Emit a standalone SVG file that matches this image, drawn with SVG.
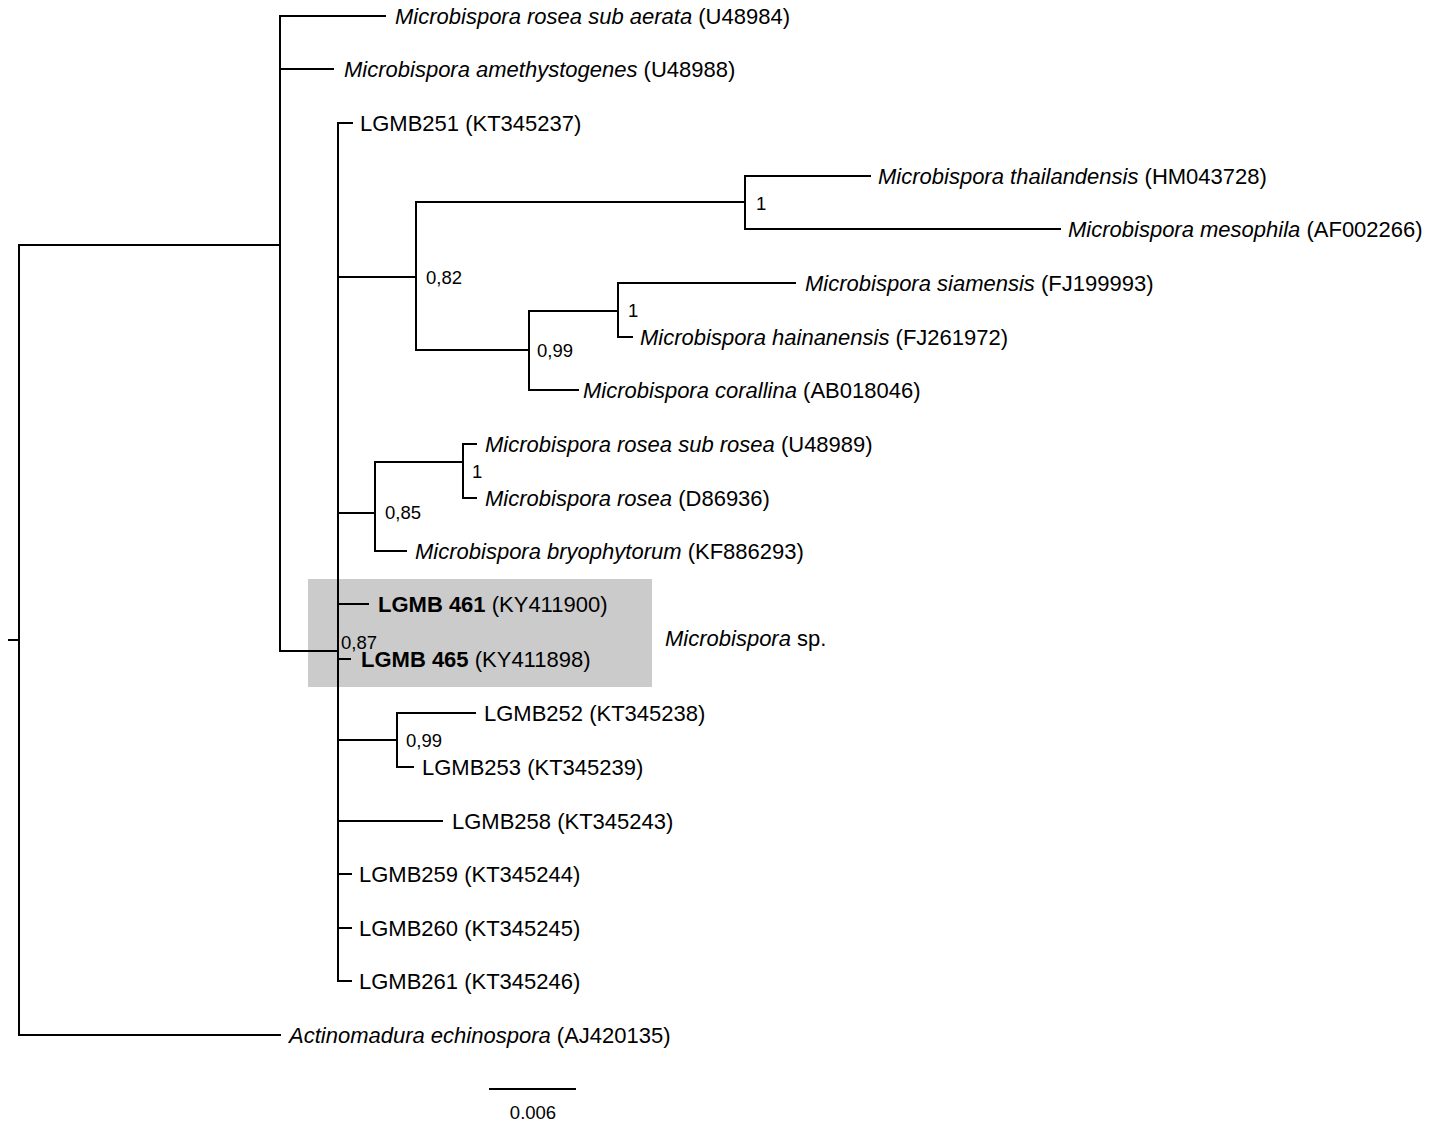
<svg xmlns="http://www.w3.org/2000/svg" width="1429" height="1129" viewBox="0 0 1429 1129">
<style>
.e{stroke:#000;stroke-width:2;fill:none;stroke-linecap:square}
.t{font-family:"Liberation Sans",Arial,sans-serif;font-size:22px;fill:#000}
.s{font-family:"Liberation Sans",Arial,sans-serif;font-size:18.5px;fill:#000}
.i{font-style:italic}
.b{font-weight:bold}
</style>
<rect x="308" y="579" width="344" height="108" fill="#cbcbcb"/>
<g id="connectors">
<path class="e" d="M9,640H19M19,245V1035M19,245H280M19,1035H280"/>
<path class="e" d="M280,16V651M280,16H385M280,69H333M280,651H338"/>
<path class="e" d="M338,123V981M338,123H352M338,277H416M338,513H375M338,604H368M338,659H350M338,740H397M338,821H442M338,874H351M338,928H351M338,981H351"/>
<path class="e" d="M416,202V350M416,202H745M416,350H529"/>
<path class="e" d="M745,176V229M745,176H870M745,229H1060"/>
<path class="e" d="M529,311V390M529,311H618M529,390H578"/>
<path class="e" d="M618,283V337M618,283H795M618,337H632"/>
<path class="e" d="M375,462V551M375,462H463M375,551H406"/>
<path class="e" d="M463,444V498M463,444H476M463,498H476"/>
<path class="e" d="M397,713V767M397,713H475M397,767H413"/>
<path class="e" d="M490,1089H575"/>
</g>
<g id="supports">
<text class="s" x="426" y="284">0,82</text>
<text class="s" x="756" y="210">1</text>
<text class="s" x="537" y="357">0,99</text>
<text class="s" x="628" y="317">1</text>
<text class="s" x="385" y="519">0,85</text>
<text class="s" x="472" y="478">1</text>
<text class="s" x="341" y="649">0,87</text>
<text class="s" x="406" y="747">0,99</text>
<text class="s" x="533" y="1119" text-anchor="middle">0.006</text>
</g>
<g id="n1"><text class="t" x="395" y="24"><tspan class="i">Microbispora rosea sub aerata</tspan> (U48984)</text></g>
<g id="n2"><text class="t" x="344" y="77"><tspan class="i">Microbispora amethystogenes</tspan> (U48988)</text></g>
<g id="n3"><text class="t" x="360" y="131">LGMB251 (KT345237)</text></g>
<g id="n4"><text class="t" x="878" y="184"><tspan class="i">Microbispora thailandensis</tspan> (HM043728)</text></g>
<g id="n5"><text class="t" x="1068" y="237"><tspan class="i">Microbispora mesophila</tspan> (AF002266)</text></g>
<g id="n6"><text class="t" x="805" y="291"><tspan class="i">Microbispora siamensis</tspan> (FJ199993)</text></g>
<g id="n7"><text class="t" x="640" y="345"><tspan class="i">Microbispora hainanensis</tspan> (FJ261972)</text></g>
<g id="n8"><text class="t" x="583" y="398"><tspan class="i">Microbispora corallina</tspan> (AB018046)</text></g>
<g id="n9"><text class="t" x="485" y="452"><tspan class="i">Microbispora rosea sub rosea</tspan> (U48989)</text></g>
<g id="n10"><text class="t" x="485" y="506"><tspan class="i">Microbispora rosea</tspan> (D86936)</text></g>
<g id="n11"><text class="t" x="415" y="559"><tspan class="i">Microbispora bryophytorum</tspan> (KF886293)</text></g>
<g id="n12"><text class="t" x="378" y="612"><tspan class="b">LGMB 461</tspan> (KY411900)</text></g>
<g id="n13"><text class="t" x="361" y="667"><tspan class="b">LGMB 465</tspan> (KY411898)</text></g>
<g id="n14"><text class="t" x="484" y="721">LGMB252 (KT345238)</text></g>
<g id="n15"><text class="t" x="422" y="775">LGMB253 (KT345239)</text></g>
<g id="n16"><text class="t" x="452" y="829">LGMB258 (KT345243)</text></g>
<g id="n17"><text class="t" x="359" y="882">LGMB259 (KT345244)</text></g>
<g id="n18"><text class="t" x="359" y="936">LGMB260 (KT345245)</text></g>
<g id="n19"><text class="t" x="359" y="989">LGMB261 (KT345246)</text></g>
<g id="n20"><text class="t" x="289" y="1043"><tspan class="i">Actinomadura echinospora</tspan> (AJ420135)</text></g>
<g id="clade"><text class="t" x="665" y="646"><tspan class="i">Microbispora</tspan> sp.</text></g>
</svg>
